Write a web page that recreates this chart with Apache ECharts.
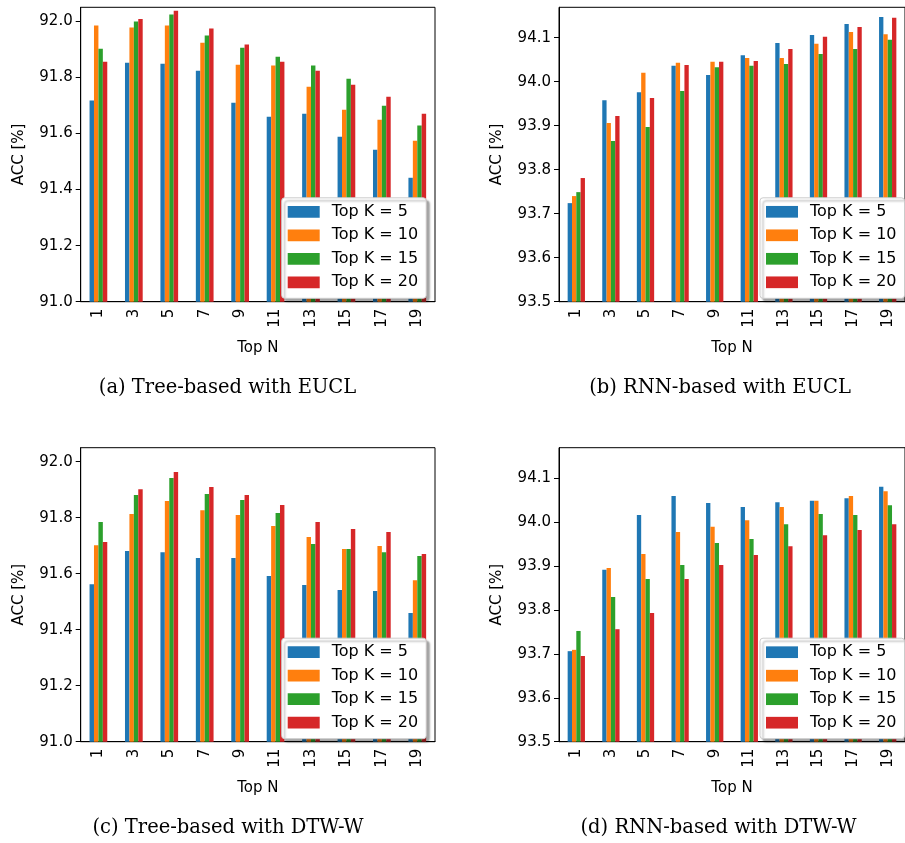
<!DOCTYPE html>
<html>
<head>
<meta charset="utf-8">
<script src="https://cdn.jsdelivr.net/npm/echarts@6/dist/echarts.min.js"></script>
<style>
html,body{margin:0;padding:0;background:#fff;}
#chart{width:905px;height:843px;}
</style>
</head>
<body>
<div id="chart"></div>
<script>
// ---- data ----
var categories = ['1','3','5','7','9','11','13','15','17','19'];
var seriesNames = ['Top K = 5','Top K = 10','Top K = 15','Top K = 20'];

// (a) Tree-based with EUCL
var aK5  = [91.718, 91.852, 91.849, 91.824, 91.710, 91.660, 91.670, 91.588, 91.542, 91.442];
var aK10 = [91.985, 91.978, 91.985, 91.924, 91.845, 91.842, 91.767, 91.685, 91.649, 91.574];
var aK15 = [91.902, 91.999, 92.024, 91.949, 91.906, 91.874, 91.842, 91.795, 91.699, 91.628];
var aK20 = [91.856, 92.008, 92.038, 91.974, 91.917, 91.856, 91.824, 91.774, 91.731, 91.670];

// (b) RNN-based with EUCL
var bK5  = [93.724, 93.958, 93.976, 94.036, 94.015, 94.060, 94.088, 94.106, 94.131, 94.147];
var bK10 = [93.740, 93.906, 94.020, 94.043, 94.045, 94.054, 94.054, 94.086, 94.113, 94.108];
var bK15 = [93.749, 93.865, 93.897, 93.979, 94.033, 94.036, 94.040, 94.063, 94.074, 94.095];
var bK20 = [93.781, 93.922, 93.963, 94.038, 94.045, 94.047, 94.074, 94.102, 94.124, 94.145];

// (c) Tree-based with DTW-W
var cK5  = [91.562, 91.681, 91.677, 91.656, 91.656, 91.592, 91.560, 91.542, 91.538, 91.460];
var cK10 = [91.702, 91.813, 91.860, 91.827, 91.810, 91.770, 91.731, 91.688, 91.699, 91.577];
var cK15 = [91.785, 91.881, 91.942, 91.885, 91.863, 91.817, 91.706, 91.688, 91.677, 91.663];
var cK20 = [91.713, 91.902, 91.963, 91.910, 91.881, 91.845, 91.785, 91.760, 91.749, 91.670];

// (d) RNN-based with DTW-W
var dK5  = [93.706, 93.891, 94.016, 94.059, 94.043, 94.034, 94.045, 94.048, 94.054, 94.080];
var dK10 = [93.709, 93.895, 93.927, 93.977, 93.989, 94.004, 94.034, 94.048, 94.059, 94.070];
var dK15 = [93.752, 93.829, 93.870, 93.902, 93.952, 93.961, 93.995, 94.018, 94.016, 94.038];
var dK20 = [93.695, 93.756, 93.793, 93.870, 93.902, 93.925, 93.945, 93.970, 93.982, 93.995];

var treeTicks = [91.0, 91.2, 91.4, 91.6, 91.8, 92.0];
var rnnTicks  = [93.5, 93.6, 93.7, 93.8, 93.9, 94.0, 94.1];

var captions = ['(a) Tree-based with EUCL', '(b) RNN-based with EUCL',
                '(c) Tree-based with DTW-W', '(d) RNN-based with DTW-W'];

// ---- layout ----
var colors = ['#1f77b4', '#ff7f0e', '#2ca02c', '#d62728'];
var panels = [
  {grid: {left: 80.7, top: 7.3, width: 354.3, height: 294.4}, min: 91.0, max: 92.05, ticks: treeTicks, data: [aK5, aK10, aK15, aK20], cap: [227.5, 388]},
  {grid: {left: 559, top: 7.3, width: 353, height: 294.4}, min: 93.5, max: 94.169, ticks: rnnTicks, data: [bK5, bK10, bK15, bK20], cap: [720, 388]},
  {grid: {left: 80.7, top: 447.7, width: 354.3, height: 294}, min: 91.0, max: 92.05, ticks: treeTicks, data: [cK5, cK10, cK15, cK20], cap: [228, 828]},
  {grid: {left: 559, top: 447.7, width: 353, height: 294}, min: 93.5, max: 94.169, ticks: rnnTicks, data: [dK5, dK10, dK15, dK20], cap: [718.5, 828]}
];

var grids = [], xAxes = [], yAxes = [], series = [], legends = [], graphics = [];
var tickFont = {color: '#000', fontSize: 15, fontFamily: 'DejaVu Sans'};

panels.forEach(function (p, i) {
  grids.push(Object.assign({show: true, borderColor: '#000', borderWidth: 1, backgroundColor: 'transparent'}, p.grid));
  xAxes.push({
    type: 'category', gridIndex: i, data: categories,
    name: 'Top N', nameLocation: 'middle', nameGap: 39,
    nameTextStyle: tickFont,
    axisLine: {lineStyle: {color: '#000', width: 1}},
    axisTick: {alignWithLabel: true, length: 5, lineStyle: {color: '#000'}},
    axisLabel: Object.assign({rotate: 90, margin: 7, interval: 0}, tickFont),
    splitLine: {show: false}
  });
  yAxes.push({
    type: 'value', gridIndex: i, min: p.min, max: p.max,
    name: 'ACC [%]', nameLocation: 'middle', nameGap: 54,
    nameTextStyle: tickFont,
    axisLine: {show: true, lineStyle: {color: '#000', width: 1}},
    axisTick: {show: true, length: 5, lineStyle: {color: '#000'}, customValues: p.ticks},
    axisLabel: Object.assign({margin: 8, customValues: p.ticks, formatter: function (v) { return v.toFixed(1); }}, tickFont),
    splitLine: {show: false}
  });
  p.data.forEach(function (arr, k) {
    series.push({
      name: seriesNames[k], type: 'bar', xAxisIndex: i, yAxisIndex: i,
      data: arr, barGap: '0%', barCategoryGap: '50%',
      itemStyle: {color: colors[k]}, clip: true, animation: false
    });
  });
  legends.push({
    data: seriesNames, orient: 'vertical',
    left: p.grid.left + 201, top: p.grid.top + 190.5,
    itemWidth: 32, itemHeight: 11.7, itemGap: 5.5,
    icon: 'rect',
    textStyle: {color: '#000', fontSize: 16, fontFamily: 'DejaVu Sans', lineHeight: 18, padding: [0, 0, 0, 7]},
    backgroundColor: '#fff', borderColor: '#cccccc', borderWidth: 1, borderRadius: 3,
    padding: [5, 8, 7, 6],
    shadowColor: 'rgba(0,0,0,0.35)', shadowBlur: 2, shadowOffsetX: 3, shadowOffsetY: 3,
    selectedMode: false
  });
  graphics.push({
    type: 'text', x: p.cap[0], y: p.cap[1],
    style: {text: captions[i], font: '19.5px "DejaVu Serif"', fill: '#000', textAlign: 'center', textVerticalAlign: 'middle'}
  });
});

var chart = echarts.init(document.getElementById('chart'), null, {renderer: 'canvas'});
chart.setOption({
  animation: false,
  backgroundColor: '#fff',
  grid: grids, xAxis: xAxes, yAxis: yAxes, series: series,
  legend: legends, graphic: graphics
});
</script>
</body>
</html>
